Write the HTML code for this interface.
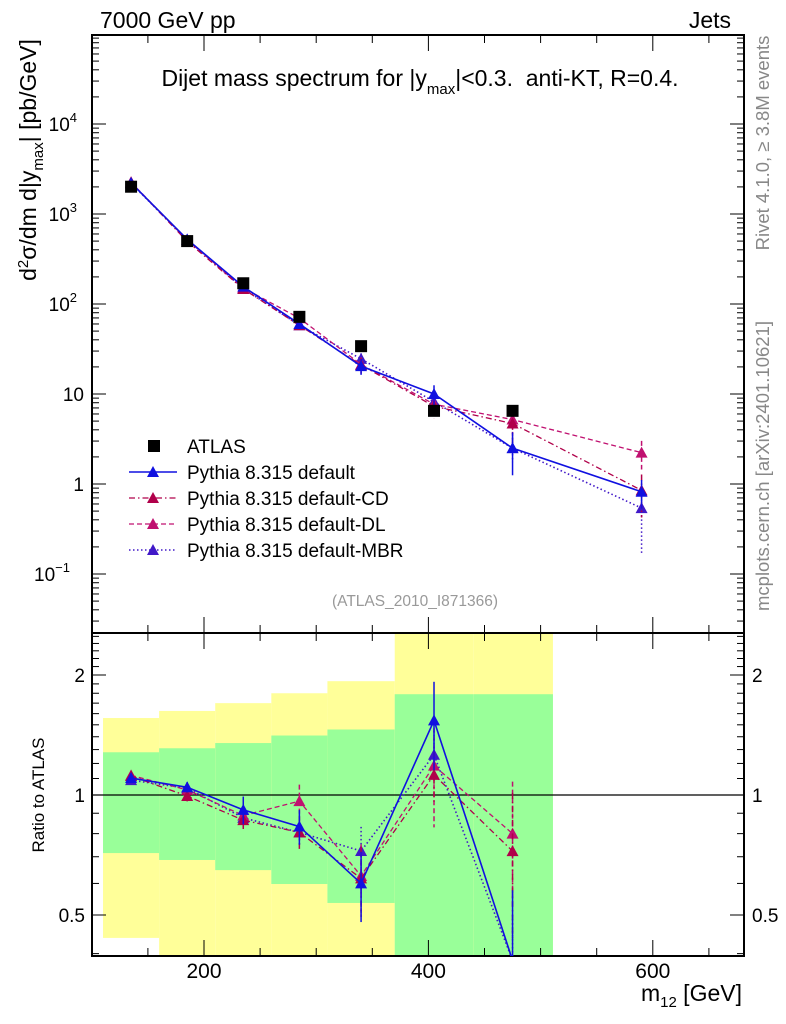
<!DOCTYPE html>
<html><head><meta charset="utf-8"><style>
html,body{margin:0;padding:0;background:#fff;overflow:hidden;}
svg{display:block;font-family:"Liberation Sans",sans-serif;}
</style></head><body>
<svg id="chart" width="786" height="1024" viewBox="0 0 786 1024" xmlns="http://www.w3.org/2000/svg">
<g id="bands"></g>
<g id="grid"></g>
<g id="series"></g>
<text x="100" y="28" font-size="23">7000 GeV pp</text>
<text x="731" y="28" font-size="23" text-anchor="end">Jets</text>
<text x="420" y="86" font-size="23" text-anchor="middle" xml:space="preserve">Dijet mass spectrum for |y<tspan font-size="15" dy="8">max</tspan><tspan dy="-8">|&lt;0.3.  anti-KT, R=0.4.</tspan></text>
<text transform="translate(36,160) rotate(-90)" font-size="23" text-anchor="middle">d<tspan font-size="15" dy="-8">2</tspan><tspan dy="8">σ/dm d|y</tspan><tspan font-size="15" dy="7">max</tspan><tspan dy="-7">| [pb/GeV]</tspan></text>
<text transform="translate(769,143) rotate(-90)" font-size="18.5" fill="#888" text-anchor="middle">Rivet 4.1.0, ≥ 3.8M events</text>
<text transform="translate(769,466) rotate(-90)" font-size="18.5" fill="#888" text-anchor="middle">mcplots.cern.ch [arXiv:2401.10621]</text>
<text x="415" y="606" font-size="15.5" fill="#999" text-anchor="middle">(ATLAS_2010_I871366)</text>
<text transform="translate(44,795) rotate(-90)" font-size="17" text-anchor="middle">Ratio to ATLAS</text>
<text x="742" y="1001" font-size="23" text-anchor="end">m<tspan font-size="15" dy="6">12</tspan><tspan dy="-6"> [GeV]</tspan></text>
<g id="legend"></g>
</svg>
<script>
const xCenters=[135,185,235,285,340,405,475,590];
const binEdges=[110,160,210,260,310,370,440,510];
const atlas=[2010,500,170,72,34,6.5,6.5];
const mcDefault=[2217,523,156,60,20.4,10.0,2.5,0.82];
const mcCD=[2243,497,147,58,21.0,7.3,4.7,0.85];
const mcDL=[2251,515,151,69.5,21.3,7.7,5.2,2.23];
const mcMBR=[2190,520,149,58,24.6,8.2,2.5,0.54];
const errDefault=[0.02,0.03,0.08,0.1,0.2,0.25,0.5,0.35];
const errCD=[0.02,0.03,0.05,0.1,0.2,0.15,0.4,0.5];
const errDL=[0.02,0.04,0.06,0.1,0.2,0.3,0.35,0.35];
const errMBR=[0.02,0.03,0.05,0.08,0.15,0.15,0.3,0.7];
const greenHi=[1.28,1.31,1.35,1.41,1.46,1.79,1.79];
const greenLo=[0.715,0.687,0.648,0.598,0.536,0.3,0.3];
const yellowHi=[1.56,1.625,1.70,1.80,1.93,3,3];
const yellowLo=[0.438,0.3,0.3,0.3,0.3,0.3,0.3];
const mainTicks=[["10","4"],["10","3"],["10","2"],["10",""],["1",""],["10","−1"]];
const mainTickVals=[4,3,2,1,0,-1];
const ratioTickVals=[2,1,0.5];
const ratioTickLabels=["2","1","0.5"];
const xTickVals=[200,400,600];
const xTickLabels=["200","400","600"];

const NS="http://www.w3.org/2000/svg";
const L=92,R=744,T=35,MB=633,RB=956;
const X=g=>204+(g-200)*1.122;
const Y=v=>484-90*Math.log10(v);
const RY=r=>795-398.6*Math.log10(r);
function mk(tag,attrs,parent){const e=document.createElementNS(NS,tag);for(const k in attrs)e.setAttribute(k,attrs[k]);parent.appendChild(e);return e;}
const bands=document.getElementById('bands'),grid=document.getElementById('grid'),ser=document.getElementById('series'),leg=document.getElementById('legend');
const clampR=r=>Math.min(Math.max(RY(r),MB),RB);
for(let i=0;i<7;i++){
  const xe0=X(binEdges[i]), xe1=(i<6)?X(binEdges[i+1]):X(511);
  let y=mk('rect',{x:xe0,y:clampR(yellowHi[i]),width:xe1-xe0,height:clampR(yellowLo[i])-clampR(yellowHi[i]),fill:'#ffff99'},bands);
  
  
  let g=mk('rect',{x:xe0,y:clampR(greenHi[i]),width:xe1-xe0,height:clampR(greenLo[i])-clampR(greenHi[i]),fill:'#99ff99'},bands);
  
  
}
mk('rect',{x:L,y:T,width:R-L,height:MB-T,fill:'none',stroke:'#000','stroke-width':2},grid);
mk('rect',{x:L,y:MB,width:R-L,height:RB-MB,fill:'none',stroke:'#000','stroke-width':2},grid);
mk('line',{x1:L,x2:R,y1:RY(1),y2:RY(1),stroke:'#000','stroke-width':1.3},grid);
for(let d=-2;d<=4;d++){for(let m=1;m<10;m++){const v=m*Math.pow(10,d);const y=Y(v);if(y<T||y>MB)continue;const len=m==1?14:7;
 mk('line',{x1:L,x2:L+len,y1:y,y2:y,stroke:'#000'},grid);mk('line',{x1:R,x2:R-len,y1:y,y2:y,stroke:'#000'},grid);}}
mainTickVals.forEach((p,i)=>{const t=mk('text',{x:84,y:Y(Math.pow(10,p))+7,'font-size':19,'text-anchor':'end'},grid);
 
 
 t.textContent=mainTicks[i][0];
 if(mainTicks[i][1]){const s=mk('tspan',{'font-size':13,dy:-9},t);s.textContent=mainTicks[i][1];
   t.setAttribute('x', 84 - (mainTicks[i][1].length*7));}});
for(let r=0.4;r<=2.55;r+=0.1){const rr=Math.round(r*10)/10;const y=RY(rr);if(y<MB||y>RB)continue;const maj=(rr==1||rr==2||rr==0.5);const len=maj?14:7;
 mk('line',{x1:L,x2:L+len,y1:y,y2:y,stroke:'#000'},grid);mk('line',{x1:R,x2:R-len,y1:y,y2:y,stroke:'#000'},grid);}
ratioTickVals.forEach((r,i)=>{
 let t=mk('text',{x:85,y:RY(r)+7,'font-size':19,'text-anchor':'end'},grid);t.textContent=ratioTickLabels[i];
 
 
 let t2=mk('text',{x:752,y:RY(r)+7,'font-size':19},grid);t2.textContent=ratioTickLabels[i];
 
 });
for(let g=100;g<=700;g+=50){const x=X(g);if(x<L||x>R)continue;const len=(g%200==0)?16:8;
 [[T,1],[MB,-1],[MB,1],[RB,-1]].forEach(([y0,s])=>mk('line',{x1:x,x2:x,y1:y0,y2:y0+s*len,stroke:'#000'},grid));}
xTickVals.forEach((g,i)=>{const t=mk('text',{x:X(g),y:978,'font-size':21,'text-anchor':'middle'},grid);t.textContent=xTickLabels[i];
 
 });
const series=[
 {name:'default',vals:mcDefault,err:errDefault,col:'#1010e0',dash:'',w:1.6},
 {name:'default-cd',vals:mcCD,err:errCD,col:'#b0004a',dash:'6,3,1.5,3',w:1.3},
 {name:'default-dl',vals:mcDL,err:errDL,col:'#c01070',dash:'5,3',w:1.3},
 {name:'default-mbr',vals:mcMBR,err:errMBR,col:'#4018c8',dash:'1.5,2.5',w:1.6}];
function tri(x,y,col,p){return mk('polygon',{points:`${x},${y-6} ${x-6},${y+5} ${x+6},${y+5}`,fill:col},p);}
const clipM=mk('clipPath',{id:'cm'},ser);mk('rect',{x:L,y:T,width:R-L,height:MB-T},clipM);
const clipR=mk('clipPath',{id:'cr'},ser);mk('rect',{x:L,y:MB,width:R-L,height:RB-MB},clipR);
const gm=mk('g',{'clip-path':'url(#cm)'},ser),gr=mk('g',{'clip-path':'url(#cr)'},ser);
series.slice().reverse().forEach(s=>{
 const pts=s.vals.map((v,i)=>X(xCenters[i])+','+Y(v)).join(' ');
 const pl=mk('polyline',{points:pts,fill:'none',stroke:s.col,'stroke-width':s.w,'stroke-dasharray':s.dash},gm);
 
 
 const rp=[];
 s.vals.forEach((v,i)=>{const x=X(xCenters[i]);
  mk('line',{x1:x,x2:x,y1:Y(v*(1+s.err[i])),y2:Y(v*(1-s.err[i])),stroke:s.col,'stroke-width':1.5,'stroke-dasharray':s.dash},gm);
  const m=tri(x,Y(v),s.col,gm);
  
  
  if(i<atlas.length){const r=v/atlas[i];rp.push(x+','+RY(r));
   mk('line',{x1:x,x2:x,y1:RY(r*(1+s.err[i])),y2:RY(Math.max(r*(1-s.err[i]),0.05)),stroke:s.col,'stroke-width':1.5,'stroke-dasharray':s.dash},gr);
   const rm=tri(x,RY(r),s.col,gr);
   
   }});
 const rl=mk('polyline',{points:rp.join(' '),fill:'none',stroke:s.col,'stroke-width':s.w,'stroke-dasharray':s.dash},gr);
 
 
});
atlas.forEach((v,i)=>{const x=X(xCenters[i]);const r=mk('rect',{x:x-6,y:Y(v)-6,width:12,height:12,fill:'#000'},ser);
 
 });
const legItems=[['ATLAS',null],['Pythia 8.315 default',series[0]],['Pythia 8.315 default-CD',series[1]],['Pythia 8.315 default-DL',series[2]],['Pythia 8.315 default-MBR',series[3]]];
legItems.forEach(([lab,s],i)=>{const y=446+i*26;const g=mk('g',{},leg);
 
 
 if(!s)mk('rect',{x:148,y:y-6,width:12,height:12,fill:'#000'},g);
 else{mk('line',{x1:129,x2:177,y1:y,y2:y,stroke:s.col,'stroke-width':s.w,'stroke-dasharray':s.dash},g);tri(153,y,s.col,g);}
 const t=mk('text',{x:187,y:y+7,'font-size':19},g);t.textContent=lab;});
</script>
</body></html>
